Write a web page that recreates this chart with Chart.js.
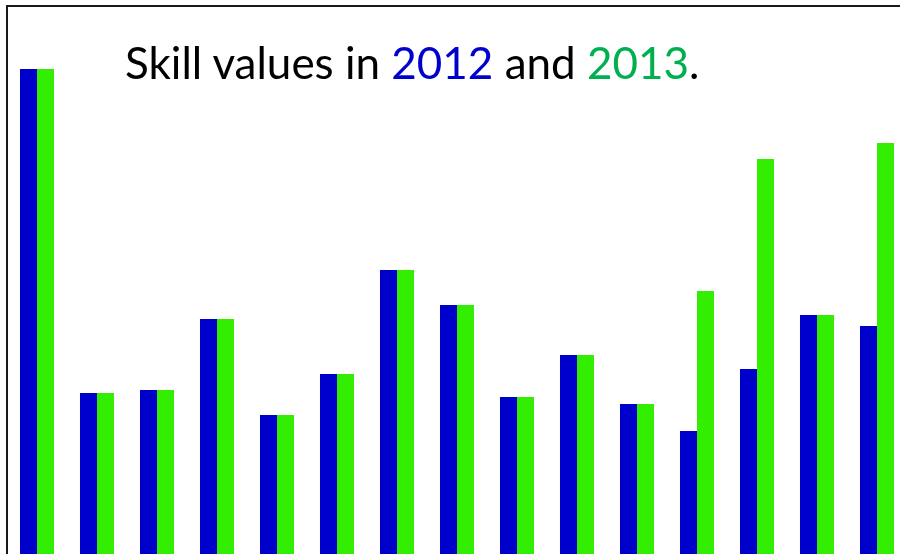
<!DOCTYPE html>
<html>
<head>
<meta charset="utf-8">
<script src="https://cdn.jsdelivr.net/npm/chart.js@4"></script>
<style>
    html, body { margin: 0; padding: 0; background: #fff; overflow: hidden; }
    #wrap { position: relative; width: 900px; height: 554px; overflow: hidden; }
    #chartBox { position: absolute; left: 0; top: 0; width: 920px; height: 554px; }
    #title {
        position: absolute; left: 125px; top: 36px; white-space: nowrap;
        font-family: Lato, sans-serif; font-size: 44px; color: #000;
    }
    .y12 { color: #0000cc; }
    .y13 { color: #00b050; }
</style>
</head>
<body>
<div id="wrap">
    <div id="chartBox"><canvas id="skills" width="920" height="554"></canvas></div>
    <div id="title">Skill values in <span class="y12">2012</span> and <span class="y13">2013</span>.</div>
</div>
<script>
// skill categories (unlabelled in the picture)
const skills = ['S1', 'S2', 'S3', 'S4', 'S5', 'S6', 'S7', 'S8', 'S9', 'S10', 'S11', 'S12', 'S13', 'S14', 'S15'];

// values (relative units)
const values2012 = [485, 161, 164, 235, 139, 180, 284, 249, 157, 199, 150, 123, 185, 239, 228];
const values2013 = [485, 161, 164, 235, 139, 180, 284, 249, 157, 199, 150, 263, 395, 239, 411];

// the slide frame: only the top and left edges are in view
const framePlugin = {
    id: 'frame',
    beforeDraw(chart) {
        const c = chart.ctx;
        c.save();
        c.strokeStyle = '#1a1a1a';
        c.lineWidth = 2;
        c.beginPath();
        c.moveTo(7, 920);
        c.lineTo(7, 6);
        c.lineTo(920, 6);
        c.stroke();
        c.restore();
    }
};

const ctx = document.getElementById('skills').getContext('2d');
new Chart(ctx, {
    type: 'bar',
    data: {
        labels: skills,
        datasets: [{
            label: '2012',
            data: values2012,
            backgroundColor: '#0000cc',
            categoryPercentage: 0.567,
            barPercentage: 1.0
        }, {
            label: '2013',
            data: values2013,
            backgroundColor: '#33ee00',
            categoryPercentage: 0.567,
            barPercentage: 1.0
        }]
    },
    options: {
        responsive: false,
        animation: false,
        layout: { padding: { left: 7, right: 13, top: 0, bottom: 0 } },
        plugins: {
            legend: { display: false },
            tooltip: { enabled: false }
        },
        scales: {
            x: { display: false },
            y: { display: false, min: 0, max: 554 }
        }
    },
    plugins: [framePlugin]
});
</script>
</body>
</html>
